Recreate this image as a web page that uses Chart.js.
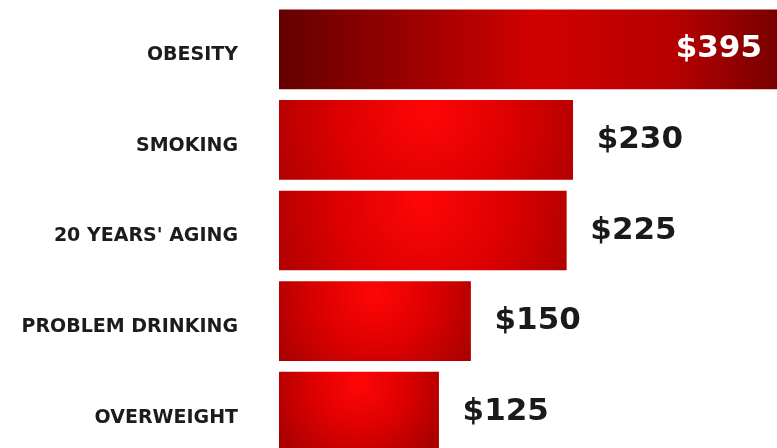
<!DOCTYPE html>
<html>
<head>
<meta charset="utf-8">
<script src="https://cdn.jsdelivr.net/npm/chart.js@4.4.0/dist/chart.umd.min.js"></script>
<style>
  html, body { margin: 0; padding: 0; background: #fff; overflow: hidden; }
</style>
</head>
<body>
<canvas id="cost-chart" width="777" height="457"></canvas>
<script>
// annual excess cost per person
const labels = ["OBESITY", "SMOKING", "20 YEARS' AGING", "PROBLEM DRINKING", "OVERWEIGHT"];
const costs = [395, 230, 225, 150, 125];
const axisMax = 390;

// red bars with a bright spot near the top, darker round the edges
function barFill(ctx) {
  const chart = ctx.chart;
  if (!chart.chartArea || ctx.type !== 'data') return '#d00000';
  const x = chart.scales.x, y = chart.scales.y;
  const left = x.getPixelForValue(0);
  const right = Math.min(x.getPixelForValue(ctx.raw), chart.chartArea.right);
  const mid = y.getPixelForValue(ctx.dataIndex);
  const w = right - left;
  const g = chart.ctx;
  if (ctx.raw > axisMax) {
    const lin = g.createLinearGradient(left, 0, right, 0);
    lin.addColorStop(0, '#640000');
    lin.addColorStop(0.52, '#d20000');
    lin.addColorStop(0.8, '#b40000');
    lin.addColorStop(1, '#780000');
    return lin;
  }
  const cx = left + w * 0.5, cy = mid - 28;
  const rad = g.createRadialGradient(cx, cy, 0, cx, cy, Math.max(w * 0.6, 95));
  rad.addColorStop(0, '#ff0606');
  rad.addColorStop(0.5, '#dc0000');
  rad.addColorStop(1, '#a80000');
  return rad;
}

const valueLabels = {
  id: 'valueLabels',
  afterDatasetsDraw(chart) {
    const g = chart.ctx;
    const meta = chart.getDatasetMeta(0);
    g.save();
    g.font = 'bold 31px "DejaVu Sans"';
    g.textBaseline = 'middle';
    meta.data.forEach(function (bar, i) {
      const text = '$' + costs[i];
      if (costs[i] > axisMax) {
        g.fillStyle = '#ffffff';
        g.textAlign = 'right';
        g.fillText(text, chart.chartArea.right - 15, bar.y);
      } else {
        g.fillStyle = '#1a1a1a';
        g.textAlign = 'left';
        g.fillText(text, bar.x + 24, bar.y);
      }
    });
    g.restore();
  }
};

new Chart(document.getElementById("cost-chart"), {
  type: 'bar',
  data: {
    labels: labels,
    datasets: [
      {
        label: "Cost",
        data: costs,
        backgroundColor: barFill,
        borderWidth: 0,
        barThickness: 79
      }
    ]
  },
  plugins: [valueLabels],
  options: {
    indexAxis: 'y',
    responsive: false,
    animation: false,
    layout: { padding: { top: 4, right: 0, bottom: 0, left: 0 } },
    plugins: {
      legend: { display: false },
      tooltip: { enabled: false }
    },
    scales: {
      x: {
        display: false,
        min: 0,
        max: axisMax
      },
      y: {
        grid: { display: false, drawTicks: false },
        border: { display: false },
        afterFit: function (scale) {
          scale.width = 279;
          // tick padding should only push labels sideways
          scale.paddingTop = 0;
          scale.paddingBottom = 0;
        },
        ticks: {
          padding: 41,
          labelOffset: 6,
          color: '#1c1c1c',
          font: { family: 'DejaVu Sans', weight: 'bold', size: 19 }
        }
      }
    }
  }
});
</script>
</body>
</html>
